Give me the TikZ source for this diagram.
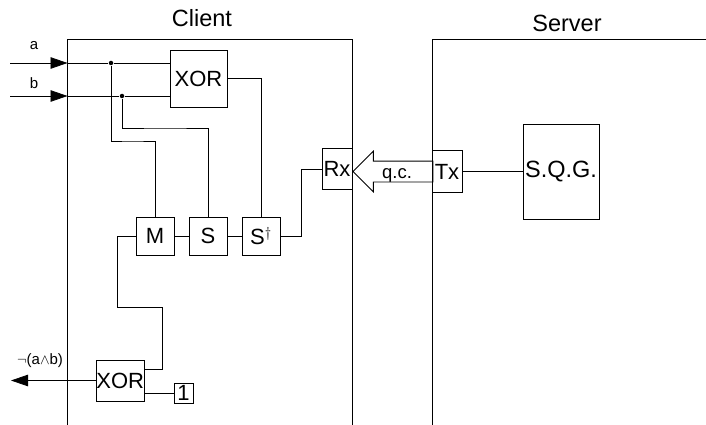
\documentclass[tikz,border=0pt]{standalone}
\usepackage{fontspec}
\setmainfont{Liberation Sans}
\usetikzlibrary{arrows.meta, shapes.arrows}

\begin{document}
\begin{tikzpicture}
		[
			x=1pt, y=-1pt,
			line width=0.8pt,
			block/.style={rectangle, draw, inner sep=0pt, font=\fontsize{22}{26}\selectfont},
			xorbig/.style={block, minimum width=57pt, minimum height=57pt},
			xorsmall/.style={block, minimum width=45.5pt, minimum height=41pt},
			gate/.style={block, minimum width=38pt, minimum height=38pt},
			port/.style={block, minimum width=30pt, minimum height=41.5pt},
			source/.style={block, minimum width=76pt, minimum height=95pt, font=\fontsize{23.5}{27}\selectfont},
			constant/.style={block, minimum width=19pt, minimum height=20pt},
			title/.style={font=\fontsize{23.5}{27}\selectfont},
			signal/.style={font=\fontsize{15}{18}\selectfont},
			dot/.style={circle, fill, inner sep=0pt, minimum size=4.5pt},
			big/.style={-{Triangle[length=17pt, width=11.5pt]}},
		]

		\useasboundingbox (0,0) rectangle (706,425);

		% Parties
		\draw (67.5,425) |- (352,39) -- (352,425);
		\draw (432,425) |- (706,39);
		\node[title] (client) at (202,18) {Client};
		\node[title] (server) at (567,23) {Server};

		% Blocks
		\foreach \style/\name/\x/\y/\text in
		{
			xorbig/xor1/198.5/78.5/XOR,
			port/rx/337/169/Rx,
			port/tx/447/171.5/Tx,
			source/sqg/561/171.5/S.Q.G.,
			gate/m/155/236/M,
			gate/s/208/236/S,
			gate/sd/261/236/{S$^\dagger$},
			xorsmall/xor2/120.25/380.5/XOR,
			constant/one/183.5/393/1
		}
			\node[\style] (\name) at (\x,\y) {\text};

		% Inputs and output
		\coordinate (ain) at (10,63);
		\coordinate (bin) at (10,96);
		\coordinate (aedge) at (67.5,63);
		\coordinate (bedge) at (67.5,96);
		\coordinate (outend) at (11,380.5);
		\node[dot] (adot) at (111,63) {};
		\node[dot] (bdot) at (122,96) {};
		\node[signal] (alabel) at (34,46) {a};
		\node[signal] (blabel) at (34,83) {b};
		\node[signal] (outlabel) at (40,361) {$\neg$(a$\wedge$b)};
		\draw[big] (ain) -- (aedge);
		\draw[big] (bin) -- (bedge);
		\draw[big] (xor2.west) -- (outend);

		% Wires
		\draw (aedge) -- (adot) -- (adot -| xor1.west);
		\draw (bedge) -- (bdot) -- (bdot -| xor1.west);
		\draw (adot) |- (132,141) -| (m.north);
		\draw (bdot) |- (165,128) -| (s.north);
		\draw (xor1.east) -| (sd.north);
		\draw (sd.east) -- (301,236) |- (rx.west);
		\draw (m.west) -- (117,236) |- (162.5,307) |- ([yshift=11.5pt]xor2.east);
		\draw (one.west) -- (one.west -| xor2.east);
		\draw (m) -- (s);
		\draw (s) -- (sd);
		\draw (tx) -- (sqg);

		% Quantum channel
		\node[single arrow, draw, shape border rotate=180, minimum width=40pt, minimum height=80pt,
			single arrow head extend=10pt, single arrow tip angle=90, inner xsep=1pt, inner ysep=10pt, anchor=tip] (qc) at (rx.east |- tx.east) {};
		\node[font=\fontsize{18.5}{22}\selectfont] (qclabel) at (397,175) {q.c.};

\end{tikzpicture}
\end{document}
